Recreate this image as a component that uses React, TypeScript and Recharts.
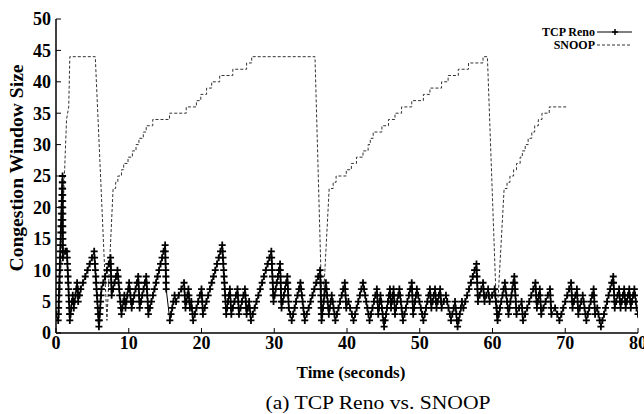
import { LineChart, Line, XAxis, YAxis, Legend, Label } from "recharts"

// cwnd samples, [time (s), window size]
const renoA: [number, number][] = [
  [0, 3], [0.3, 2], [0.33, 3], [0.36, 4], [0.38, 5], [0.41, 6], [0.43, 7], [0.46, 8], [0.48, 9], [0.51, 10],
  [0.53, 11], [0.56, 12], [0.59, 13], [0.61, 14], [0.64, 15], [0.67, 16], [0.69, 17], [0.72, 18], [0.74, 19],
  [0.77, 20], [0.79, 21], [0.82, 22], [0.85, 23], [0.87, 24], [0.9, 25],
  [0.91, 24], [0.91, 23], [0.92, 22], [0.92, 21], [0.92, 20], [0.93, 19], [0.93, 18], [0.93, 17], [0.94, 16],
  [0.94, 15], [0.94, 14], [0.95, 13], [0.95, 12], [1.3, 13], [1.5, 13],
  [1.54, 12], [1.57, 11], [1.61, 10], [1.65, 9], [1.68, 8], [1.72, 7], [1.75, 6], [1.79, 5], [1.83, 4], [1.86, 3], [1.9, 2],
  [2.0, 3], [2.1, 4], [2.2, 5], [2.3, 6], [2.38, 5], [2.45, 4], [2.56, 5], [2.68, 6], [2.79, 7], [2.9, 8],
  [3.0, 7], [3.03, 6], [3.05, 5], [3.23, 6], [3.4, 7],
  [3.71, 8], [4.02, 9], [4.33, 10], [4.63, 11], [4.94, 12], [5.25, 13],
  [5.3, 12], [5.36, 11], [5.41, 10], [5.47, 9], [5.52, 8], [5.57, 7], [5.63, 6], [5.68, 5], [5.74, 4], [5.79, 3], [5.85, 2], [5.9, 1],
  [5.96, 2], [6.02, 3], [6.08, 4], [6.13, 5], [6.19, 6], [6.25, 7], [6.5, 8], [6.75, 9], [7.0, 10], [7.25, 11], [7.5, 12],
  [7.53, 11], [7.55, 10], [7.58, 9], [7.6, 8], [7.63, 7], [7.65, 6], [7.85, 7], [8.05, 8], [8.25, 9], [8.45, 10],
  [8.53, 9], [8.61, 8], [8.69, 7], [8.76, 6], [8.84, 5], [8.92, 4], [9.0, 3],
  [9.13, 4], [9.27, 5], [9.4, 6], [9.48, 5], [9.55, 4], [9.68, 5], [9.8, 6], [9.93, 7], [10.05, 8],
  [10.14, 7], [10.23, 6], [10.31, 5], [10.4, 4], [10.58, 5], [10.76, 6], [10.94, 7], [11.12, 8], [11.3, 9],
  [11.34, 8], [11.38, 7], [11.42, 6], [11.46, 5], [11.5, 4], [11.68, 5], [11.86, 6], [12.04, 7], [12.22, 8], [12.4, 9],
  [12.45, 8], [12.5, 7], [12.55, 6], [12.6, 5], [12.65, 4], [12.7, 3],
  [12.91, 4], [13.12, 5], [13.33, 6], [13.54, 7], [13.75, 8], [13.95, 9], [14.16, 10], [14.37, 11], [14.58, 12], [14.79, 13], [15.0, 14],
  [15.02, 13], [15.04, 12], [15.06, 11], [15.09, 10], [15.11, 9], [15.13, 8], [15.15, 7],
]

const renoB: [number, number][] = [
  [15.65, 2], [15.81, 3], [15.98, 4], [16.14, 5], [16.3, 6], [16.5, 5], [16.87, 6], [17.23, 7], [17.6, 8],
  [17.65, 7], [17.7, 6], [17.75, 5], [17.8, 4], [17.93, 5], [18.07, 6], [18.2, 7], [18.27, 6], [18.33, 5], [18.4, 4],
  [18.6, 5], [18.68, 4], [18.77, 3], [18.85, 2], [19.08, 3], [19.31, 4], [19.54, 5], [19.77, 6], [20.0, 7],
  [20.05, 6], [20.1, 5], [20.15, 4], [20.2, 3],
  [20.44, 4], [20.68, 5], [20.92, 6], [21.16, 7], [21.4, 8], [21.65, 9], [21.89, 10], [22.13, 11], [22.37, 12], [22.61, 13], [22.85, 14],
  [22.9, 13], [22.95, 12], [23.0, 11], [23.05, 10], [23.1, 9], [23.15, 8], [23.2, 7], [23.25, 6], [23.3, 5], [23.35, 4], [23.4, 3],
  [23.53, 4], [23.65, 5], [23.78, 6], [23.9, 7], [23.95, 6], [24.0, 5], [24.05, 4], [24.1, 3],
  [24.31, 4], [24.53, 5], [24.74, 6], [24.95, 7], [25.0, 6], [25.05, 5], [25.1, 4], [25.15, 3],
  [25.36, 4], [25.56, 5], [25.77, 6], [25.97, 7], [26.03, 6], [26.09, 5], [26.14, 4], [26.2, 3],
  [26.38, 4], [26.55, 5], [26.63, 4], [26.72, 3], [26.8, 2],
  [27.05, 3], [27.31, 4], [27.56, 5], [27.82, 6], [28.07, 7], [28.33, 8], [28.58, 9], [28.84, 10], [29.09, 11], [29.35, 12], [29.6, 13],
  [29.64, 12], [29.68, 11], [29.71, 10], [29.75, 9], [29.79, 8], [29.83, 7], [29.86, 6], [29.9, 5],
]

const renoC: [number, number][] = [
  [30.05, 6], [30.2, 7], [30.35, 8], [30.5, 9], [30.65, 10], [30.8, 11],
  [30.83, 10], [30.86, 9], [30.89, 8], [30.91, 7], [30.94, 6], [30.97, 5], [31.0, 4],
  [31.16, 5], [31.32, 6], [31.48, 7], [31.64, 8], [31.8, 9], [31.84, 8], [31.88, 7], [31.92, 6], [31.96, 5], [32.0, 4],
  [32.2, 3], [32.4, 2], [32.6, 3], [32.8, 4], [33.0, 5], [33.2, 6], [33.4, 7], [33.6, 8],
  [33.7, 7], [33.8, 6], [33.9, 5], [34.0, 4], [34.1, 3], [34.2, 2],
  [34.46, 3], [34.73, 4], [34.99, 5], [35.25, 6], [35.51, 7], [35.78, 8], [36.04, 9], [36.3, 10],
  [36.33, 9], [36.35, 8], [36.38, 7], [36.4, 6], [36.43, 5], [36.45, 4], [36.48, 3], [36.5, 2],
  [36.6, 3], [36.7, 4], [36.8, 5], [36.9, 6], [37.0, 7], [37.1, 8], [37.18, 7], [37.26, 6], [37.34, 5], [37.42, 4], [37.5, 3],
  [37.63, 4], [37.77, 5], [37.9, 6], [38.03, 5], [38.15, 4], [38.28, 3], [38.4, 2],
  [38.62, 3], [38.83, 4], [39.05, 5], [39.27, 6], [39.48, 7], [39.7, 8], [39.75, 7], [39.8, 6], [39.85, 5], [39.9, 4],
  [40.2, 5], [40.43, 4], [40.67, 3], [40.9, 2],
  [41.12, 3], [41.33, 4], [41.55, 5], [41.77, 6], [41.98, 7], [42.2, 8],
  [42.35, 7], [42.5, 6], [42.65, 5], [42.8, 4], [42.95, 3], [43.1, 2],
  [43.3, 3], [43.5, 4], [43.7, 5], [43.9, 6], [44.1, 7], [44.15, 6], [44.2, 5], [44.25, 4], [44.3, 3],
  [44.4, 4], [44.5, 5], [44.6, 6], [44.7, 5], [44.8, 4], [44.9, 3], [45.0, 2], [45.1, 1],
]

const renoD: [number, number][] = [
  [45.23, 2], [45.37, 3], [45.5, 4], [45.63, 5], [45.77, 6], [45.9, 7], [45.95, 6], [46.0, 5], [46.05, 4],
  [46.17, 5], [46.28, 6], [46.4, 7], [46.45, 6], [46.5, 5], [46.55, 4], [46.6, 3],
  [46.75, 4], [46.9, 5], [47.05, 6], [47.2, 7], [47.3, 6], [47.4, 5], [47.5, 4], [47.6, 3], [47.7, 2],
  [47.9, 3], [48.1, 4], [48.3, 5], [48.5, 6], [48.7, 7], [48.9, 8], [48.94, 7], [48.98, 6], [49.02, 5], [49.06, 4], [49.1, 3],
  [49.23, 4], [49.35, 5], [49.48, 6], [49.6, 7], [49.78, 6], [49.96, 5], [50.14, 4], [50.32, 3], [50.5, 2],
  [50.68, 3], [50.86, 4], [51.04, 5], [51.22, 6], [51.4, 7], [51.47, 6], [51.53, 5], [51.6, 4],
  [51.77, 5], [51.93, 6], [52.1, 7], [52.17, 6], [52.23, 5], [52.3, 4], [52.47, 5], [52.63, 6], [52.8, 7],
  [52.87, 6], [52.93, 5], [53.0, 4], [53.3, 5], [53.6, 6], [53.78, 5], [53.95, 4], [54.13, 3], [54.3, 2],
  [54.48, 3], [54.67, 4], [54.85, 5], [54.94, 4], [55.03, 3], [55.11, 2], [55.2, 1],
  [55.35, 2], [55.5, 3], [55.65, 4], [55.8, 5], [56.0, 4],
  [56.26, 5], [56.51, 6], [56.77, 7], [57.03, 8], [57.29, 9], [57.54, 10], [57.8, 11],
  [57.83, 10], [57.87, 9], [57.9, 8], [57.93, 7], [57.97, 6], [58.0, 5], [58.23, 6], [58.47, 7], [58.7, 8],
  [58.77, 7], [58.83, 6], [58.9, 5], [59.15, 6], [59.4, 7], [59.5, 6], [59.6, 5], [59.95, 6], [60.3, 7],
  [60.38, 6], [60.46, 5], [60.54, 4], [60.62, 3], [60.7, 2],
]

const renoE: [number, number][] = [
  [60.87, 3], [61.03, 4], [61.2, 5], [61.37, 6], [61.53, 7], [61.7, 8], [61.8, 7], [61.9, 6], [62.0, 5], [62.1, 4], [62.2, 3],
  [62.33, 4], [62.47, 5], [62.6, 6], [62.73, 7], [62.87, 8], [63.0, 9], [63.05, 8], [63.1, 7], [63.15, 6], [63.2, 5], [63.25, 4], [63.3, 3],
  [63.65, 4], [64.0, 5], [64.07, 4], [64.13, 3], [64.2, 2],
  [64.48, 3], [64.77, 4], [65.05, 5], [65.33, 6], [65.62, 7], [65.9, 8], [65.95, 7], [66.0, 6], [66.05, 5], [66.1, 4],
  [66.23, 5], [66.37, 6], [66.5, 7], [66.55, 6], [66.6, 5], [66.65, 4], [66.7, 3],
  [67.0, 4], [67.3, 5], [67.6, 6], [67.9, 7], [67.95, 6], [68.0, 5], [68.05, 4], [68.1, 3], [68.6, 4], [68.9, 3], [69.2, 2],
  [69.47, 3], [69.73, 4], [70.0, 5], [70.27, 6], [70.53, 7], [70.8, 8], [70.85, 7], [70.9, 6], [70.95, 5], [71.0, 4],
  [71.2, 5], [71.4, 6], [71.6, 7], [71.65, 6], [71.7, 5], [71.75, 4], [71.8, 3], [72.0, 4], [72.2, 5], [72.4, 6],
  [72.53, 5], [72.65, 4], [72.78, 3], [72.9, 2], [73.1, 3], [73.3, 4], [73.5, 5], [73.7, 6], [73.9, 7],
  [73.95, 6], [74.0, 5], [74.05, 4], [74.1, 3], [74.4, 4], [74.57, 3], [74.73, 2], [74.9, 1],
  [75.11, 2], [75.33, 3], [75.54, 4], [75.75, 5], [75.96, 6], [76.18, 7], [76.39, 8], [76.6, 9],
  [76.64, 8], [76.68, 7], [76.72, 6], [76.76, 5], [76.8, 4], [77.0, 5], [77.2, 6], [77.4, 7],
  [77.47, 6], [77.53, 5], [77.6, 4], [77.77, 5], [77.93, 6], [78.1, 7], [78.17, 6], [78.23, 5], [78.3, 4],
  [78.47, 5], [78.63, 6], [78.8, 7], [78.87, 6], [78.93, 5], [79.0, 4], [79.17, 5], [79.33, 6], [79.5, 7],
  [79.6, 6], [79.7, 5], [79.8, 4], [80, 3],
]

// SNOOP staircase corners
const snoopFirst: [number, number][] = [
  [0, 2], [0.4, 2], [1.45, 34], [1.75, 36], [1.9, 44], [5.4, 44], [7.0, 2], [7.85, 23],
  [8.2, 23], [8.2, 24], [8.5, 24], [8.5, 25], [9.0, 25], [9.0, 26], [9.3, 26], [9.3, 27], [9.9, 27], [9.9, 28],
  [10.5, 28], [10.5, 29], [11.0, 29], [11.0, 30], [11.4, 30], [11.4, 31], [12.0, 31], [12.0, 32], [12.4, 32], [12.4, 33],
  [13.3, 33], [13.3, 34], [15.6, 34], [15.6, 35], [17.9, 35], [17.9, 36], [19.3, 36], [19.3, 37], [19.9, 37], [19.9, 38],
  [20.7, 38], [20.7, 39], [21.4, 39], [21.4, 40], [22.5, 40], [22.5, 41], [24.3, 41], [24.3, 42], [26.2, 42], [26.2, 43],
  [26.9, 43], [26.9, 44], [35.6, 44],
]

const snoopSecond: [number, number][] = [
  [36.6, 2], [37.55, 23], [38.1, 23], [38.1, 24], [38.5, 24], [38.5, 25], [39.9, 25], [39.9, 26], [40.6, 26], [40.6, 27],
  [41.3, 27], [41.3, 28], [42.2, 28], [42.2, 29], [42.9, 29], [42.9, 30], [43.2, 30], [43.2, 31], [43.6, 31], [43.6, 32],
  [44.8, 32], [44.8, 33], [45.7, 33], [45.7, 34], [46.6, 34], [46.6, 35], [47.5, 35], [47.5, 36], [48.9, 36], [48.9, 37],
  [50.5, 37], [50.5, 38], [51.4, 38], [51.4, 39], [53.0, 39], [53.0, 40], [53.9, 40], [53.9, 41], [55.3, 41], [55.3, 42],
  [56.7, 42], [56.7, 43], [58.7, 43], [58.7, 44], [59.3, 44],
]

const snoopThird: [number, number][] = [
  [60.6, 2], [61.6, 23], [62.0, 23], [62.0, 24], [62.4, 24], [62.4, 25], [62.9, 25], [62.9, 26], [63.3, 26], [63.3, 27],
  [63.8, 27], [63.8, 28], [64.1, 28], [64.1, 29], [64.5, 29], [64.5, 30], [64.9, 30], [64.9, 31], [65.4, 31], [65.4, 32],
  [65.8, 32], [65.8, 33], [66.3, 33], [66.3, 34], [66.8, 34], [66.8, 35], [67.8, 35], [67.8, 36], [70.2, 36],
]

const xTicks = [0, 10, 20, 30, 40, 50, 60, 70, 80]
const yTicks = [0, 5, 10, 15, 20, 25, 30, 35, 40, 45, 50]
const seriesNames = ["TCP Reno", "SNOOP"]

const serif = "'Liberation Serif', 'Times New Roman', serif"

const toRows = (pts: [number, number][]) => pts.map(([t, w]) => ({ t, w }))
const renoData = toRows([...renoA, ...renoB, ...renoC, ...renoD, ...renoE])
const snoopData = toRows([...snoopFirst, ...snoopSecond, ...snoopThird])

const renderPlus = (p: any) => {
  const { cx, cy, index } = p
  if (cx == null || cy == null) return <g key={index} />
  return (
    <path
      key={index}
      d={`M${cx - 3.5},${cy}H${cx + 3.5}M${cx},${cy - 3.5}V${cy + 3.5}`}
      stroke="#000"
      strokeWidth={1.8}
      fill="none"
    />
  )
}

function LegendBox() {
  const txt = { fontFamily: serif, fontWeight: 700, fontSize: 12, fill: "#000" }
  return (
    <svg width={110} height={34}>
      <text x={55} y={14} textAnchor="end" {...txt}>{seriesNames[0]}</text>
      <line x1={57} x2={92} y1={10} y2={10} stroke="#000" strokeWidth={1.2} />
      <path d="M72,10H78M75,7V13" stroke="#000" strokeWidth={1.5} />
      <text x={55} y={27} textAnchor="end" {...txt}>{seriesNames[1]}</text>
      <line x1={57} x2={92} y1={23} y2={23} stroke="#333" strokeDasharray="3 2" />
    </svg>
  )
}

const tickStyle = { fontFamily: serif, fontSize: 18, fontWeight: 700, fill: "#000" }
const frame = { stroke: "#000", strokeWidth: 1.5 }

export default function App() {
  return (
    <div style={{ position: "absolute", left: 0, top: 0, width: 644, height: 414, background: "#fff" }}>
      <LineChart width={644} height={414} margin={{ top: 19, right: 6, bottom: 51, left: 0 }}>
        <XAxis
          dataKey="t"
          type="number"
          domain={[0, 80]}
          ticks={xTicks}
          interval={0}
          height={30}
          tickSize={-5}
          tickMargin={8}
          tick={tickStyle}
          axisLine={frame}
          tickLine={{ stroke: "#000" }}
          allowDataOverflow
        >
          <Label
            content={() => (
              <g>
                <text x={351} y={378} textAnchor="middle" fontFamily={serif} fontWeight={700} fontSize={17}>
                  Time (seconds)
                </text>
                <text
                  x={378}
                  y={409}
                  textAnchor="middle"
                  fontFamily={serif}
                  fontSize={18}
                  textLength={225}
                  lengthAdjust="spacingAndGlyphs"
                >
                  (a) TCP Reno vs. SNOOP
                </text>
              </g>
            )}
          />
        </XAxis>
        <XAxis
          xAxisId="top"
          orientation="top"
          type="number"
          domain={[0, 80]}
          ticks={xTicks}
          interval={0}
          height={0}
          tickSize={-5}
          tick={false}
          axisLine={frame}
          tickLine={{ stroke: "#000" }}
        />
        <YAxis
          type="number"
          domain={[0, 50]}
          ticks={yTicks}
          interval={0}
          width={56}
          tickSize={-5}
          tickMargin={10}
          tick={tickStyle}
          axisLine={frame}
          tickLine={{ stroke: "#000" }}
          allowDataOverflow
        >
          <Label
            content={() => (
              <text
                x={17}
                y={168}
                transform="rotate(-90, 17, 168)"
                textAnchor="middle"
                dominantBaseline="central"
                fontFamily={serif}
                fontWeight={700}
                fontSize={18}
                textLength={207}
                lengthAdjust="spacingAndGlyphs"
              >
                Congestion Window Size
              </text>
            )}
          />
        </YAxis>
        <YAxis
          yAxisId="right"
          orientation="right"
          type="number"
          domain={[0, 50]}
          ticks={yTicks}
          interval={0}
          width={0}
          tickSize={-5}
          tick={false}
          axisLine={frame}
          tickLine={{ stroke: "#000" }}
        />
        <Legend
          layout="horizontal"
          verticalAlign="middle"
          align="center"
          content={() => <LegendBox />}
          wrapperStyle={{ top: 22, left: 540, width: 110, height: 34 }}
        />
        <Line
          data={snoopData}
          dataKey="w"
          name={seriesNames[1]}
          type="linear"
          stroke="#333"
          strokeWidth={1}
          strokeDasharray="3 2"
          dot={false}
          activeDot={false}
          isAnimationActive={false}
        />
        <Line
          data={renoData}
          dataKey="w"
          name={seriesNames[0]}
          type="linear"
          stroke="#000"
          strokeWidth={1}
          dot={renderPlus}
          activeDot={false}
          isAnimationActive={false}
        />
      </LineChart>
    </div>
  )
}
